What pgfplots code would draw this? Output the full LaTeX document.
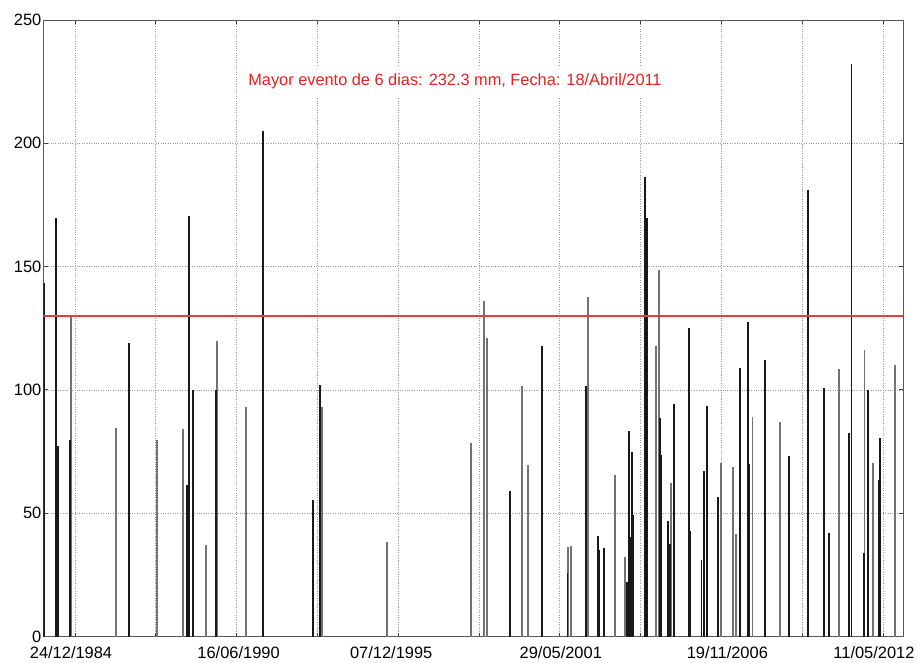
\documentclass[border=0pt]{standalone}
\usepackage{fontspec}
\setmainfont{Liberation Sans}
\usepackage{pgfplots}
\usepackage{pgfplotstable}
\pgfplotsset{compat=1.18}

\definecolor{evred}{RGB}{225,35,35}
\definecolor{limred}{RGB}{232,60,60}
\definecolor{barblack}{RGB}{25,25,25}
\definecolor{bargray}{RGB}{115,115,115}

% shift a centred tick label sideways by #1
\newcommand\shiftlab[2]{\makebox[0pt][c]{\hspace*{#1}\hspace*{#1}#2}}

% day = days after 24/12/1984, value = 6-day rainfall (mm)
\pgfplotstableread{
day value
-53 130.4
507 84.5
1019 79.7
1333 84.2
1618 37.2
1754 120
2113 93.2
3061 93.2
3858 38.5
4901 78.4
5058 136.2
5095 121
5532 101.6
5606 69.6
6098 36.2
6135 36.5
6349 137.8
6680 65.5
6811 32.4
7191 117.8
7228 148.6
7380 62.2
7999 70.5
8144 68.6
8181 41.6
8387 89.2
8725 86.9
9459 108.4
9773 116.2
9880 70.5
10152 110.1
}\graybars

\pgfplotstableread{
day value
-384 143.2
-239 169.6
-210 77.3
-62 79.7
672 118.9
1382 61.5
1411 170.5
1457 100
1750 100
2323 205.1
2949 55.4
3032 102
5384 59.2
5783 117.8
6095 25.7
6324 101.6
6473 40.8
6489 35.1
6551 35.8
6836 22.3
6860 83.4
6873 40.5
6890 75
6910 49.3
7051 186.2
7079 169.6
7244 88.5
7252 73.6
7343 47
7364 37.6
7413 94.3
7595 125
7605 109.5
7615 42.6
7754 31.1
7787 67.3
7825 93.5
7962 56.5
8234 109
8333 127.7
8342 70
8540 112.2
8833 73.2
9068 181.1
9274 100.7
9328 41.9
9576 82.4
9611 232.3
9761 33.8
9814 100
9820 53.4
9950 63.5
9966 80.4
}\blackbars

% threshold line (mm)
\pgfplotstableread{
day value
-390 130
10248 130
}\threshold

\begin{document}
\begin{tikzpicture}
\useasboundingbox (-43.5bp,-26.5bp) rectangle (875.5bp,636.5bp);
\begin{axis}[
  scale only axis,
  width=859.5bp, height=616.5bp,
  xmin=-390, xmax=10248,
  ymin=0, ymax=250,
  scaled x ticks=false,
  xtick={0,1000,...,10000},
  xticklabels={\shiftlab{-4bp}{24/12/1984},,\shiftlab{2bp}{16/06/1990},,\shiftlab{-7bp}{07/12/1995},,\shiftlab{1bp}{29/05/2001},,\shiftlab{6bp}{19/11/2006},,\shiftlab{-9bp}{11/05/2012}},
  ytick={0,50,...,250},
  tick align=inside,
  major tick length=4bp,
  every tick/.style={black!75, line width=0.8bp},
  axis line style={black!65, line width=0.9bp},
  grid=major,
  major grid style={black!40, dotted, line width=0.7bp},
  tick label style={font=\fontsize{16.5}{18}\selectfont},
  xticklabel style={yshift=-7bp},
  yticklabel style={inner xsep=2bp},
  /pgf/number format/assume math mode=true,
  clip=true,
]
\addplot[ycomb, bargray, line width=1.7bp] table[x=day, y=value] {\graybars};
\addplot[ycomb, barblack, line width=1.9bp] table[x=day, y=value] {\blackbars};
\addplot[draw=limred, line width=1.3bp, mark=none] table[x=day, y=value] {\threshold};
\node[fill=white, text=evred, inner xsep=4bp, inner ysep=8bp,
      font=\fontsize{16.4}{18}\selectfont] at (axis cs:4703,225)
  {Mayor evento de 6 dias: 232.3 mm, Fecha: 18/Abril/2011};
\end{axis}
\end{tikzpicture}
\end{document}
